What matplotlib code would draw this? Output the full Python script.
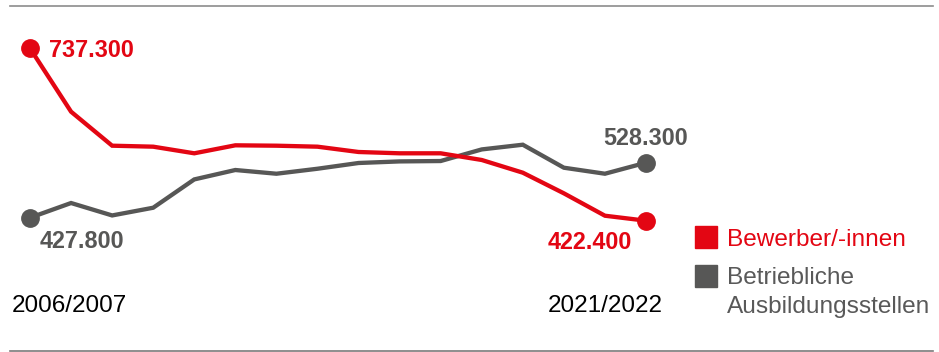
import matplotlib
matplotlib.use("Agg")
import matplotlib.pyplot as plt
from matplotlib.lines import Line2D
from matplotlib.patches import Rectangle

plt.rcParams['font.family'] = ['Liberation Sans', 'DejaVu Sans']

# Daten: Bewerber/-innen und betriebliche Ausbildungsstellen (in Tsd.)
jahre = list(range(16))  # 2006/2007 ... 2021/2022
bewerber = [737.3, 621.5, 559.4, 557.6, 545.5, 560.1, 559.4, 557.6,
            547.9, 545.5, 545.5, 533.3, 510.1, 472.4, 431.5, 422.4]
stellen = [427.8, 454.7, 432.0, 446.1, 497.8, 515.0, 508.2, 517.3,
           527.8, 530.7, 531.4, 552.6, 561.2, 519.2, 508.2, 528.3]
start_label = "2006/2007"
end_label = "2021/2022"
legend_labels = ["Bewerber/-innen", "Betriebliche", "Ausbildungsstellen"]

ROT = "#e30613"
GRAU = "#575756"

W, H = 939, 352
fig = plt.figure(figsize=(W / 100, H / 100), dpi=100)
ax = fig.add_axes([0, 0, 1, 1])
ax.set_axis_off()

# Pixel-Mapping: Index 0 -> x=30px, Index 15 -> x=646px
step = (646 - 30) / 15
ax.set_xlim(-30 / step, 15 + (W - 646) / step)
scale = (737.3 - 422.4) / (220.7 - 48.3)
ax.set_ylim(737.3 - (H - 48.3) * scale, 737.3 + 48.3 * scale)

ax.plot(jahre, stellen, color=GRAU, lw=3.1, solid_joinstyle='miter', zorder=2)
ax.plot(jahre, bewerber, color=ROT, lw=3.1, solid_joinstyle='miter', zorder=3)
for serie, c in [(bewerber, ROT), (stellen, GRAU)]:
    ax.plot([jahre[0], jahre[-1]], [serie[0], serie[-1]], 'o', color=c,
            ms=12.5, zorder=4)

def fmt(v):
    return f"{v:.3f}"

lab = dict(fontsize=16.8, fontweight='bold', textcoords='offset pixels',
           va='baseline')
ax.annotate(fmt(bewerber[0]), (jahre[0], bewerber[0]), xytext=(19, -8.5),
            color=ROT, ha='left', **lab)
ax.annotate(fmt(stellen[0]), (jahre[0], stellen[0]), xytext=(10, -30),
            color=GRAU, ha='left', **lab)
ax.annotate(fmt(stellen[-1]), (jahre[-1], stellen[-1]), xytext=(0, 18),
            color=GRAU, ha='center', **lab)
ax.annotate(fmt(bewerber[-1]), (jahre[-1], bewerber[-1]), xytext=(-14, -28.6),
            color=ROT, ha='right', **lab)

# Jahresbeschriftungen
fig.text(12 / W, 1 - 311.5 / H, start_label, fontsize=17.5, color='black',
         ha='left', va='baseline')
fig.text(663 / W, 1 - 311.5 / H, end_label, fontsize=17.5, color='black',
         ha='right', va='baseline')

# Legende
for y0, c in [(226, ROT), (265, GRAU)]:
    fig.patches.append(Rectangle((695 / W, 1 - (y0 + 22) / H), 22 / W, 22 / H,
                                 transform=fig.transFigure, color=c))
for txt, base, tc in zip(legend_labels, [246, 284, 312.5], [ROT, "#595959", "#595959"]):
    fig.text(727 / W, 1 - base / H, txt, fontsize=17.6, color=tc,
             ha='left', va='baseline')

# Trennlinien oben und unten
fig.add_artist(Line2D([10 / W, 933 / W], [1 - 6 / H, 1 - 6 / H],
                      color='#8c8c8c', lw=1.2))
fig.add_artist(Line2D([10 / W, 933 / W], [1 - 350.5 / H, 1 - 350.5 / H],
                      color='#7a7a7a', lw=1.2))

fig.savefig("out.png", dpi=100)
